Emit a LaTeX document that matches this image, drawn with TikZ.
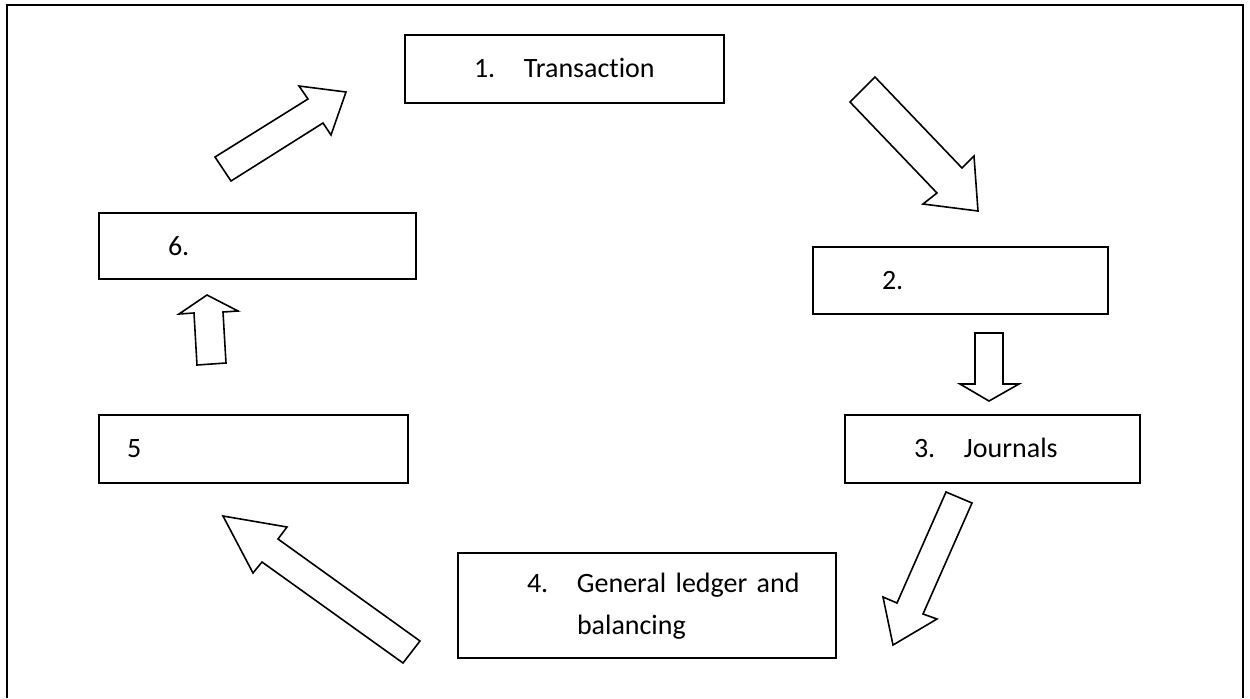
\documentclass[tikz,border=0pt]{standalone}
\usepackage{fontspec}
\setmainfont{Carlito}[Ligatures=NoCommon]
\usepackage{tikz}

\newcommand{\steptext}[3][34.5pt]{\hspace*{#1}\makebox[25pt][l]{#2}\begin{tabular}[t]{@{}l@{}}#3\end{tabular}}

\begin{document}
\begin{tikzpicture}[x=0.5pt, y=-0.5pt,
    box/.style={draw, line width=1pt, rectangle, anchor=north west, inner xsep=0pt, inner ysep=0pt, align=left},
    blockarrow/.style={draw, line width=0.8pt, fill=white, line join=miter},
    font=\fontsize{14}{21}\selectfont]
  \useasboundingbox (0,0) rectangle (1250,698);
  \draw [line width=1.2pt] (7,698) -- (7,5) -- (1243,5) -- (1243,698);

  \node [box, text width=159.5pt, minimum height=34pt] (trans) at (404,34) {\steptext{1.}{Transaction}};
  \node [box, text width=147.5pt, minimum height=33.5pt] (s2) at (812,246) {\hspace*{34.5pt}2.};
  \node [box, text width=147.5pt, minimum height=34pt] (journals) at (844,414) {\steptext{3.}{Journals}};
  \node [box, text width=189pt, minimum height=52.5pt] (ledger) at (457,552) {\steptext{4.}{General ledger and\\balancing}};
  \node [box, text width=154.5pt, minimum height=34pt] (s5) at (98,414) {\hspace*{14pt}5};
  \node [box, text width=158.5pt, minimum height=33pt] (s6) at (98,212) {\hspace*{34.5pt}6.};

  \draw [blockarrow] (215,157) -- (308,99) -- (299,86) -- (346,92) -- (331,135) -- (323,123) -- (231,181) -- cycle;
  \draw [blockarrow] (875,77) -- (962,168) -- (974,156) -- (978,211) -- (923,204) -- (937,193) -- (850,102) -- cycle;
  \draw [blockarrow] (975,333) -- (1003,333) -- (1003,384) -- (1019,384) -- (989,401) -- (960,384) -- (975,384) -- cycle;
  \draw [blockarrow] (946,492) -- (972,503) -- (923,614) -- (937,619) -- (893,645) -- (883,597) -- (897,603) -- cycle;
  \draw [blockarrow] (223,516) -- (287,527) -- (278,539) -- (420,641) -- (403,663) -- (262,562) -- (253,573) -- cycle;
  \draw [blockarrow] (207,295) -- (238,311) -- (223,312) -- (226,363) -- (197,365) -- (194,313) -- (179,314) -- cycle;
\end{tikzpicture}
\end{document}
